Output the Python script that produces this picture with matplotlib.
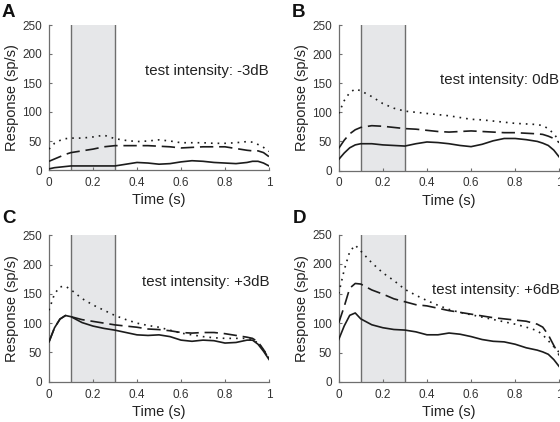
import matplotlib

matplotlib.use("Agg")
import matplotlib.pyplot as plt

# time grid (s) shared by every trace
TIME = [0.0, 0.025, 0.05, 0.075, 0.1, 0.15, 0.2, 0.25, 0.3, 0.35, 0.4, 0.45, 0.5,
        0.55, 0.6, 0.65, 0.7, 0.75, 0.8, 0.85, 0.9, 0.925, 0.95, 0.975, 1.0]

# responses (sp/s)
SOLID_A = [2, 4, 5, 6, 7, 7, 7, 7, 7, 10, 13, 12, 10, 11, 14, 16, 15, 13, 12, 11, 13, 15, 15, 12, 7]
DASHED_A = [15, 19, 23, 27, 30, 33, 36, 40, 42, 42, 42, 42, 41, 40, 38, 39, 40, 40, 40, 37, 34, 33, 33, 30, 23]
DOTTED_A = [36, 46, 51, 54, 55, 55, 57, 60, 54, 51, 49, 50, 52, 50, 47, 47, 47, 46, 46, 47, 49, 48, 44, 39, 32]

SOLID_B = [19, 30, 39, 44, 46, 46, 44, 43, 42, 46, 49, 48, 46, 43, 41, 45, 51, 55, 55, 53, 50, 47, 43, 35, 23]
DASHED_B = [38, 52, 63, 70, 74, 77, 76, 74, 72, 71, 69, 67, 66, 67, 68, 67, 66, 65, 65, 64, 63, 62, 59, 55, 48]
DOTTED_B = [98, 120, 134, 140, 137, 127, 115, 107, 102, 100, 98, 96, 94, 91, 88, 87, 85, 83, 81, 80, 79, 77, 72, 63, 51]

SOLID_C = [68, 92, 107, 113, 111, 101, 95, 91, 88, 84, 80, 79, 80, 77, 71, 69, 71, 70, 66, 67, 71, 71, 64, 52, 38]
DASHED_C = [68, 92, 107, 113, 111, 106, 103, 100, 97, 95, 93, 90, 89, 87, 84, 83, 84, 84, 82, 79, 76, 74, 68, 55, 38]
DOTTED_C = [122, 150, 162, 163, 157, 142, 131, 122, 113, 106, 100, 96, 93, 88, 83, 80, 77, 75, 74, 74, 74, 72, 66, 55, 40]

SOLID_D = [72, 95, 113, 117, 107, 97, 92, 89, 88, 85, 80, 80, 83, 81, 77, 72, 69, 68, 64, 58, 54, 51, 47, 38, 26]
DASHED_D = [100, 128, 159, 167, 166, 156, 149, 141, 136, 131, 129, 125, 121, 118, 115, 112, 109, 107, 105, 103, 98, 93, 80, 62, 45]
DOTTED_D = [150, 190, 221, 232, 222, 202, 185, 172, 157, 147, 138, 130, 123, 118, 114, 110, 106, 102, 98, 93, 87, 80, 70, 60, 50]

PANEL_LABELS = ["A", "B", "C", "D"]
INTENSITIES = ["-3dB", "0dB", "+3dB", "+6dB"]
SOLID = [SOLID_A, SOLID_B, SOLID_C, SOLID_D]
DASHED = [DASHED_A, DASHED_B, DASHED_C, DASHED_D]
DOTTED = [DOTTED_A, DOTTED_B, DOTTED_C, DOTTED_D]

STIM_ON, STIM_OFF = 0.1, 0.3
X_TICKS = [0, 0.2, 0.4, 0.6, 0.8, 1.0]
X_TICK_LABELS = ["0", "0.2", "0.4", "0.6", "0.8", "1"]
Y_TICKS = [0, 50, 100, 150, 200, 250]

plt.rcParams["font.family"] = ["Liberation Sans", "DejaVu Sans"]

W, H = 560, 422
# axes boxes in pixels: left, top, right, bottom
BOXES = [(49, 25, 269, 170), (338.7, 25, 559.3, 170.5),
         (49, 235.3, 269, 381.7), (338.7, 234.5, 559.3, 382)]
TEXT_Y = [170, 156, 170, 156]
LETTER_XY = [(2, 4), (292, 4), (2, 210), (293, 210)]

LINE_COL = "#1c1c1c"
AX_COL = "#6e6e6e"

fig = plt.figure(figsize=(W / 100, H / 100), dpi=100)

for i in range(4):
    l, t, r, b = BOXES[i]
    ax = fig.add_axes([l / W, 1 - b / H, (r - l) / W, (b - t) / H])
    ax.axvspan(STIM_ON, STIM_OFF, color="#e6e7e9", lw=0, zorder=0)
    ax.axvline(STIM_ON, color=AX_COL, lw=1.0, zorder=1)
    ax.axvline(STIM_OFF, color=AX_COL, lw=1.0, zorder=1)

    ax.plot(TIME, SOLID[i], color=LINE_COL, lw=1.2, zorder=3)
    ax.plot(TIME, DASHED[i], color=LINE_COL, lw=1.2, ls=(0, (8, 3.5)), zorder=3)
    ax.plot(TIME, DOTTED[i], color=LINE_COL, lw=1.2, ls=(0, (1, 3)), zorder=3)

    ax.set_xlim(0, 1)
    ax.set_ylim(0, 250)
    ax.set_xticks(X_TICKS)
    ax.set_xticklabels(X_TICK_LABELS)
    ax.set_yticks(Y_TICKS)
    for side in ("top", "right"):
        ax.spines[side].set_visible(False)
    for side in ("left", "bottom"):
        ax.spines[side].set_color(AX_COL)
        ax.spines[side].set_linewidth(0.9)
    ax.tick_params(direction="in", length=2.5, width=0.8, color=AX_COL,
                   labelsize=8.5, labelcolor="#333333", pad=5)
    ax.set_xlabel("Time (s)", fontsize=10.5, labelpad=3, color="#222222")
    ax.set_ylabel("Response (sp/s)", fontsize=10.5, labelpad=2, color="#222222")

    ax.text(1.0, TEXT_Y[i], "test intensity: " + INTENSITIES[i], ha="right",
            va="center", fontsize=10.8, color="#222222", clip_on=False)

    lx, ly = LETTER_XY[i]
    fig.text(lx / W, 1 - ly / H, PANEL_LABELS[i], ha="left", va="top",
             fontsize=13.5, fontweight="bold", color="#111111")

fig.savefig("out.png", dpi=100)
